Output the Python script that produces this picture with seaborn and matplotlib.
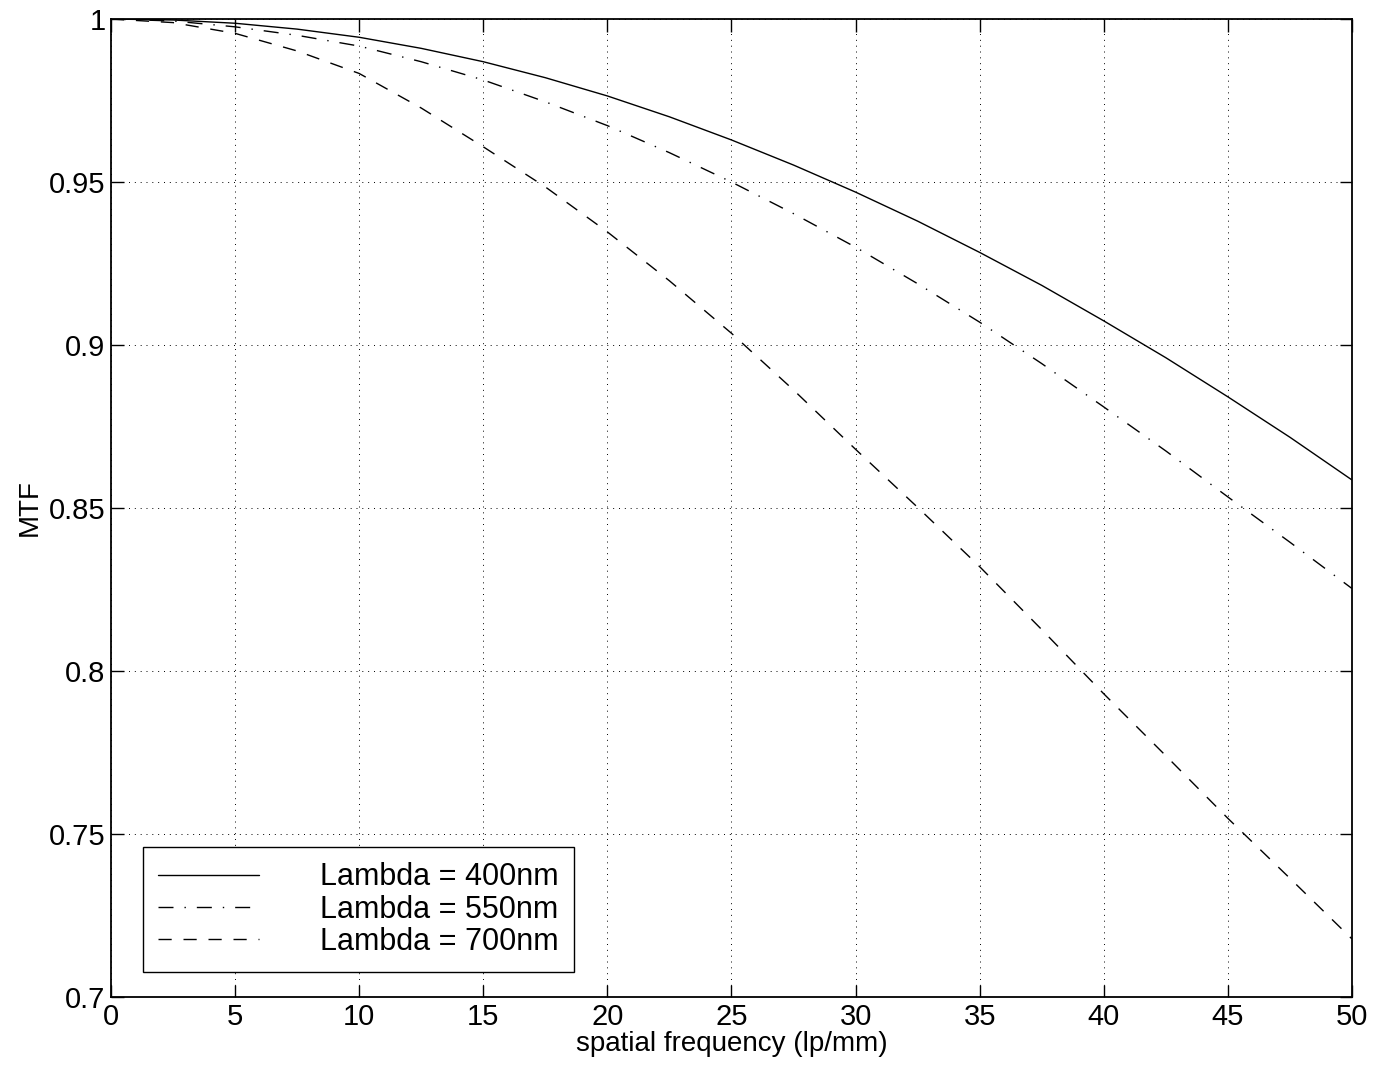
import numpy as np
import pandas as pd
import matplotlib
matplotlib.use("Agg")
import matplotlib.pyplot as plt
import seaborn as sns

# Spatial frequency samples (lp/mm)
freq = [0, 2.5, 5, 7.5, 10, 12.5, 15, 17.5, 20, 22.5, 25,
        27.5, 30, 32.5, 35, 37.5, 40, 42.5, 45, 47.5, 50]

# MTF
mtf_400 = [1.0, 0.9997, 0.9987, 0.9969, 0.9944, 0.9910, 0.9869, 0.9820, 0.9764, 0.9700, 0.9629,
           0.9552, 0.9469, 0.9380, 0.9284, 0.9183, 0.9074, 0.8961, 0.8841, 0.8717, 0.8586]
mtf_550 = [1.0, 0.9994, 0.9976, 0.9950, 0.9917, 0.9869, 0.9813, 0.9746, 0.9673, 0.9590, 0.9500,
           0.9403, 0.9300, 0.9188, 0.9070, 0.8943, 0.8810, 0.8675, 0.8534, 0.8395, 0.8253]
mtf_700 = [1.0, 0.9989, 0.9956, 0.9902, 0.9833, 0.9727, 0.9608, 0.9485, 0.9347, 0.9197, 0.9036,
           0.8862, 0.8680, 0.8502, 0.8320, 0.8127, 0.7930, 0.7740, 0.7548, 0.7364, 0.7178]

labels = ["Lambda = 400nm", "Lambda = 550nm", "Lambda = 700nm"]
styles = ["-", (0, (10.8, 7.9, 1, 7.9)), (0, (9.5, 8.5))]

x_ticks = [0, 5, 10, 15, 20, 25, 30, 35, 40, 45, 50]
y_ticks = [0.7, 0.75, 0.8, 0.85, 0.9, 0.95, 1.0]
y_ticklabels = ["0.7", "0.75", "0.8", "0.85", "0.9", "0.95", "1"]

sns.set_theme(style="ticks")
plt.rcParams['font.family'] = ['Liberation Sans', 'DejaVu Sans']
plt.rcParams['text.color'] = 'black'
plt.rcParams['axes.labelcolor'] = 'black'

fig = plt.figure(figsize=(13.73, 10.74), dpi=100)
ax = fig.add_axes([0.0808, 0.0717, 0.9039, 0.9106])

df = pd.DataFrame({"freq": freq, "400": mtf_400, "550": mtf_550, "700": mtf_700})
for col, lab, ls in zip(["400", "550", "700"], labels, styles):
    sns.lineplot(data=df, x="freq", y=col, ax=ax, color="black", linewidth=1.0,
                 linestyle=ls, label=lab)

ax.set_xlim(0, 50)
ax.set_ylim(0.7, 1.0)
ax.set_xticks(x_ticks)
ax.set_xticklabels([str(t) for t in x_ticks])
ax.set_yticks(y_ticks)
ax.set_yticklabels(y_ticklabels)

ax.grid(True, color="black", linestyle=(0, (1, 5)), linewidth=0.7)
ax.tick_params(direction="in", length=9, width=1.0, top=True, right=True,
               labelsize=21, colors="black", pad=4)
for s in ax.spines.values():
    s.set_linewidth(1.3)
    s.set_color("black")

ax.set_xlabel("spatial frequency (lp/mm)", fontsize=20, labelpad=0)
ax.set_ylabel("MTF", fontsize=20, labelpad=4)

leg = ax.legend(loc="lower left", bbox_to_anchor=(0.0258, 0.0256), borderaxespad=0,
                fontsize=22, frameon=True, fancybox=False, edgecolor="black",
                handlelength=3.3, handletextpad=2.0, labelspacing=0.07,
                borderpad=0.5)
leg.get_frame().set_linewidth(1.0)
leg.get_frame().set_alpha(1)

fig.savefig("out.png", dpi=100)
